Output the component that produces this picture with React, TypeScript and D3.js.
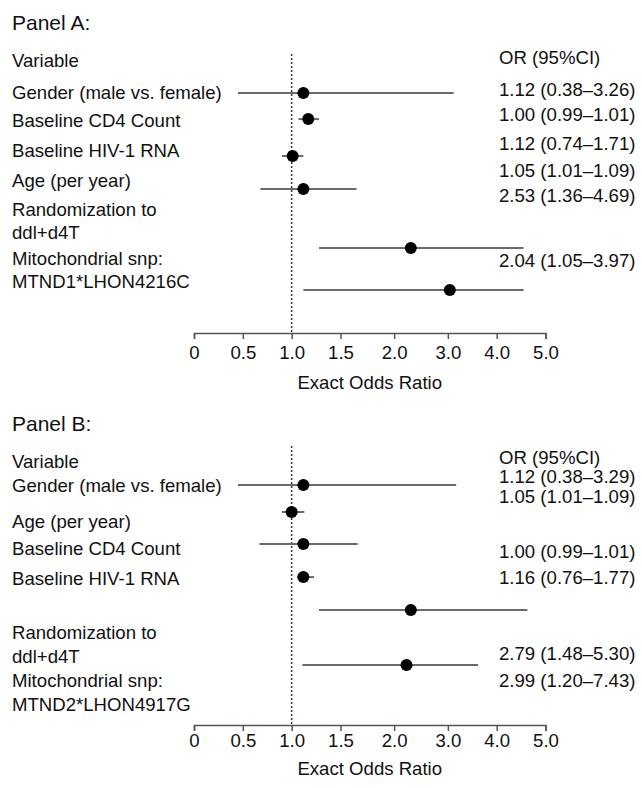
import React, { useEffect, useRef } from "react";
import * as d3 from "d3";

// axis ticks (the axis is not linear: every tick gets about the same room)
const tickValues = [0, 0.5, 1, 1.5, 2, 3, 4, 5];
const tickLabels = ["0", "0.5", "1.0", "1.5", "2.0", "3.0", "4.0", "5.0"];

// Panel A
const labelsA = [
  ["Gender (male vs. female)"],
  ["Baseline CD4 Count"],
  ["Baseline HIV-1 RNA"],
  ["Age (per year)"],
  ["Randomization to", "ddl+d4T"],
  ["Mitochondrial snp:", "MTND1*LHON4216C"],
];
const ciTextA = [
  "1.12 (0.38–3.26)",
  "1.00 (0.99–1.01)",
  "1.12 (0.74–1.71)",
  "1.05 (1.01–1.09)",
  "2.53 (1.36–4.69)",
  "2.04 (1.05–3.97)",
];
const estA = [1.12, 1.17, 1.01, 1.12, 2.31, 3.04];
const lowA = [0.45, 1.07, 0.9, 0.68, 1.28, 1.12];
const highA = [3.12, 1.28, 1.12, 1.65, 4.55, 4.55];

// Panel B
const labelsB = [
  ["Gender (male vs. female)"],
  ["Age (per year)"],
  ["Baseline CD4 Count"],
  ["Baseline HIV-1 RNA"],
  ["Randomization to", "ddl+d4T"],
  ["Mitochondrial snp:", "MTND2*LHON4917G"],
];
const ciTextB = [
  "1.12 (0.38–3.29)",
  "1.05 (1.01–1.09)",
  "1.00 (0.99–1.01)",
  "1.16 (0.76–1.77)",
  "2.79 (1.48–5.30)",
  "2.99 (1.20–7.43)",
];
const estB = [1.12, 1.0, 1.12, 1.12, 2.31, 2.23];
const lowB = [0.45, 0.9, 0.67, 1.055, 1.28, 1.11];
const highB = [3.17, 1.13, 1.66, 1.23, 4.63, 3.62];

const W = 642;
const H = 788;
const FONT = "'Liberation Sans', Arial, Helvetica, sans-serif";
const FS = 18.6;
const LEFT = 12;
const RIGHT_COL = 499;
const ROW = 30;

// row slots (in rows of 30px from the "Variable" line) - the marks in the original sit off their labels
const layoutA = {
  title: "Panel A:",
  origin: 60,
  titleRow: -1.23,
  labelRows: [1.07, 2.03, 3.03, 4.03, 4.97, 6.6],
  markRows: [1.1, 1.97, 3.2, 4.3, 6.27, 7.67],
  textRows: [0.97, 1.83, 2.77, 3.67, 4.53, 6.67],
  headerRow: -0.1,
  refTop: 54,
  axisY: 333,
  tickPad: 6.5,
  axisTitleY: 382,
};
const layoutB = {
  title: "Panel B:",
  origin: 461,
  titleRow: -1.23,
  labelRows: [0.8, 2.0, 2.9, 3.9, 5.73, 7.33],
  markRows: [0.8, 1.7, 2.77, 3.87, 4.97, 6.8],
  textRows: [0.53, 1.17, 3.03, 3.87, 6.43, 7.3],
  headerRow: -0.13,
  refTop: 446,
  axisY: 725,
  tickPad: 3,
  axisTitleY: 768,
};

function App() {
  const ref = useRef(null);

  useEffect(() => {
    const svg = d3.select(ref.current);
    svg.selectAll("*").remove();

    // piecewise x scale: same width per tick gap, the 1.5-2 and 2-3 gaps a bit wider
    const gapWeights = [1, 1, 1, 1.1, 1.1, 1, 1];
    const x0 = 194;
    const x1 = 545.5;
    const total = d3.sum(gapWeights);
    const cum = [0, ...d3.cumsum(gapWeights)];
    const x = d3
      .scaleLinear()
      .domain(tickValues)
      .range(cum.map((c) => x0 + (c / total) * (x1 - x0)));

    const panels = [
      { lay: layoutA, labels: labelsA, ciText: ciTextA, est: estA, low: lowA, high: highA },
      { lay: layoutB, labels: labelsB, ciText: ciTextB, est: estB, low: lowB, high: highB },
    ];

    panels.forEach((p) => {
      const lay = p.lay;
      const y = d3.scaleLinear().domain([0, 1]).range([lay.origin, lay.origin + ROW]);
      const g = svg.append("g").style("font-family", FONT).attr("fill", "#111");

      g.append("text")
        .attr("x", LEFT)
        .attr("y", y(lay.titleRow))
        .attr("dy", "0.35em")
        .style("font-size", "21px")
        .text(lay.title);

      g.append("text")
        .attr("x", LEFT)
        .attr("y", y(0))
        .attr("dy", "0.35em")
        .style("font-size", FS + "px")
        .text("Variable");

      g.append("text")
        .attr("x", RIGHT_COL)
        .attr("y", y(lay.headerRow))
        .attr("dy", "0.35em")
        .style("font-size", FS + "px")
        .text("OR (95%CI)");

      // variable labels
      p.labels.forEach((lines, i) => {
        const t = g
          .append("text")
          .attr("x", LEFT)
          .attr("y", y(lay.labelRows[i]))
          .style("font-size", FS + "px");
        lines.forEach((ln, j) => {
          t.append("tspan")
            .attr("x", LEFT)
            .attr("dy", j === 0 ? "0.35em" : "1.26em")
            .text(ln);
        });
      });

      // OR text column
      g.selectAll("text.ci")
        .data(p.ciText)
        .enter()
        .append("text")
        .attr("class", "ci")
        .attr("x", RIGHT_COL)
        .attr("y", (d, i) => y(lay.textRows[i]))
        .attr("dy", "0.35em")
        .style("font-size", FS + "px")
        .text((d) => d);

      // reference line at OR = 1
      g.append("line")
        .attr("x1", x(1))
        .attr("x2", x(1))
        .attr("y1", lay.refTop)
        .attr("y2", lay.axisY)
        .attr("stroke", "#333")
        .attr("stroke-width", 1.5)
        .attr("stroke-dasharray", "2,2");

      const idx = d3.range(p.est.length);

      g.selectAll("line.bar")
        .data(idx)
        .enter()
        .append("line")
        .attr("class", "bar")
        .attr("x1", (i) => x(p.low[i]))
        .attr("x2", (i) => x(p.high[i]))
        .attr("y1", (i) => y(lay.markRows[i]))
        .attr("y2", (i) => y(lay.markRows[i]))
        .attr("stroke", "#6a6a6a")
        .attr("stroke-width", 2);

      g.selectAll("circle")
        .data(idx)
        .enter()
        .append("circle")
        .attr("cx", (i) => x(p.est[i]))
        .attr("cy", (i) => y(lay.markRows[i]))
        .attr("r", 6)
        .attr("fill", "#000");

      const axis = g
        .append("g")
        .attr("transform", `translate(0,${lay.axisY})`)
        .call(
          d3
            .axisBottom(x)
            .tickValues(tickValues)
            .tickFormat((d, i) => tickLabels[i])
            .tickSizeOuter(0)
            .tickSize(6)
            .tickPadding(lay.tickPad)
        );
      axis.select(".domain").attr("stroke", "#555").attr("stroke-width", 1.5);
      axis.selectAll(".tick line").attr("stroke", "#555").attr("stroke-width", 1.5);
      axis
        .selectAll(".tick text")
        .attr("fill", "#111")
        .style("font-size", FS + "px")
        .style("font-family", FONT);

      g.append("text")
        .attr("x", (x0 + x1) / 2)
        .attr("y", lay.axisTitleY)
        .attr("dy", "0.35em")
        .attr("text-anchor", "middle")
        .style("font-size", FS + "px")
        .text("Exact Odds Ratio");
    });
  }, []);

  return (
    <div style={{ position: "absolute", left: 0, top: 0, background: "#fff" }}>
      <svg ref={ref} width={W} height={H}></svg>
    </div>
  );
}

export default App;
